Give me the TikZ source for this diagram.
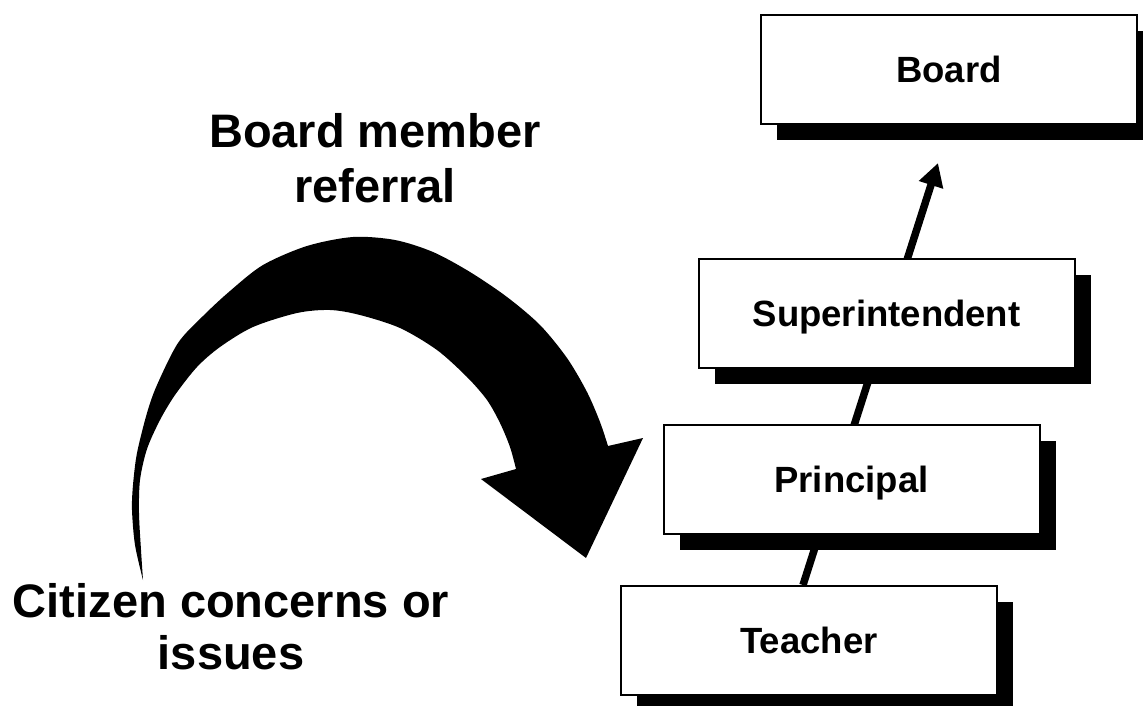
\documentclass[tikz,border=0pt]{standalone}
\usepackage{fontspec}
\setmainfont{Liberation Sans}
\usetikzlibrary{arrows.meta,shadows,backgrounds,calc}
\begin{document}
\begin{tikzpicture}[x=1pt,y=-1pt,
  level/.style={draw=black, line width=2pt, fill=white,
    minimum width=376pt, minimum height=109pt, inner sep=0pt,
    font=\fontsize{36.5}{40}\selectfont\bfseries,
    text height=26.5pt, text depth=0pt,
    drop shadow={shadow xshift=16pt, shadow yshift=-16pt, fill=black, opacity=1}},
  caption/.style={align=center, inner sep=0pt, anchor=north,
    font=\fontsize{47}{55}\selectfont\bfseries},
  flow/.style={line width=7.5pt, -{Triangle[length=23pt,width=24pt]}},
  bigarrow/.style={fill=black}]
\useasboundingbox (0,0) rectangle (1143,706);

% chain of responsibility
\node[level] (board)     at (949,69.5)  {Board};
\node[level] (super)     at (886.5,313.5) {Superintendent};
\node[level] (principal) at (851.5,479) {Principal};
\node[level] (teacher)   at (809,640.5) {Teacher};
\coordinate (boardin) at (938,163);

% escalation line runs behind the boxes
\begin{scope}[on background layer]
  \draw[flow] ($(teacher.north)+(-6,0)$) -- (boardin);
\end{scope}

% side labels
\node[caption] (referral) at (375,113.7) {Board member\\referral};
\node[caption, font=\fontsize{47}{52}\selectfont\bfseries] (citizen) at (231,583.5) {Citizen concerns or\\issues};

% curved block arrow from the citizen to the principal
\fill[bigarrow]
  plot[smooth] coordinates {(143,580) (135,545) (132,510) (133,485) (137,453)
    (147,413) (157,385) (178,343) (203,316) (230,291) (263,265) (307,246)
    (353,237) (395,240) (433,252) (470,272) (507,297) (540,325) (567,358)
    (587,392) (600,422) (608,446)}
  -- (643,438) -- (586,558) -- (481,479)
  -- plot[smooth] coordinates {(516,469) (510,447) (500,423) (487,400)
    (467,377) (437,350) (400,328) (360,315) (330,310) (297,313) (253,327)
    (220,347) (197,367) (175,395) (160,420) (147,449) (140,480) (139,513)
    (141,550) (143,580)}
  -- cycle;
\end{tikzpicture}
\end{document}
